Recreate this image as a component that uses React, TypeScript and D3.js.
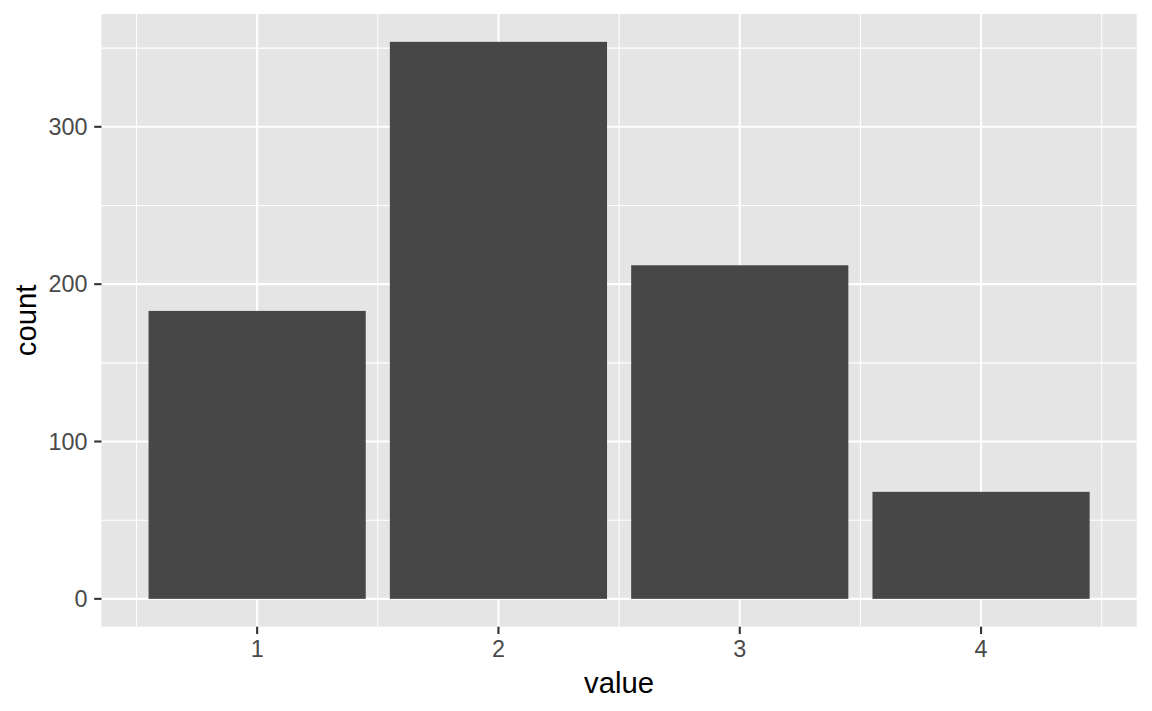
import React from 'react';
import * as d3 from 'd3';

const categories = [1, 2, 3, 4];
const counts = [183, 354, 212, 68];
const yTicks = [0, 100, 200, 300];
const yMinor = [50, 150, 250, 350];
const xMinor = [0.5, 1.5, 2.5, 3.5, 4.5];

const W = 1152;
const H = 711;
const panel = { left: 101.5, top: 14, right: 1136.7, bottom: 626.7 };

const App: React.FC = () => {
  const barWidth = 0.9;
  const xLo = d3.min(categories)! - barWidth / 2;
  const xHi = d3.max(categories)! + barWidth / 2;
  const xPad = (xHi - xLo) * 0.05;
  const x = d3.scaleLinear()
    .domain([xLo - xPad, xHi + xPad])
    .range([panel.left, panel.right]);

  const yMax = d3.max(counts)!;
  const y = d3.scaleLinear()
    .domain([-yMax * 0.05, yMax * 1.05])
    .range([panel.bottom, panel.top]);

  const font = '"Liberation Sans", Arial, sans-serif';
  const tickColor = '#4A4A4A';

  return (
    <svg width={W} height={H} style={{ display: 'block', margin: -8 }} fontFamily={font}>
      <rect x={0} y={0} width={W} height={H} fill="white" />
      <rect
        x={panel.left}
        y={panel.top}
        width={panel.right - panel.left}
        height={panel.bottom - panel.top}
        fill="#E5E5E5"
      />
      {/* minor grid */}
      {yMinor.map(v => (
        <line key={'ym' + v} x1={panel.left} x2={panel.right} y1={y(v)} y2={y(v)} stroke="white" strokeWidth={1.1} />
      ))}
      {xMinor.map(v => (
        <line key={'xm' + v} y1={panel.top} y2={panel.bottom} x1={x(v)} x2={x(v)} stroke="white" strokeWidth={1.1} />
      ))}
      {/* major grid */}
      {yTicks.map(v => (
        <line key={'y' + v} x1={panel.left} x2={panel.right} y1={y(v)} y2={y(v)} stroke="white" strokeWidth={2.1} />
      ))}
      {categories.map(v => (
        <line key={'x' + v} y1={panel.top} y2={panel.bottom} x1={x(v)} x2={x(v)} stroke="white" strokeWidth={2.1} />
      ))}
      {/* bars */}
      {categories.map((c, i) => (
        <rect
          key={'b' + c}
          x={x(c - barWidth / 2)}
          width={x(c + barWidth / 2) - x(c - barWidth / 2)}
          y={y(counts[i])}
          height={y(0) - y(counts[i])}
          fill="#474747"
        />
      ))}
      {/* y axis */}
      {yTicks.map(v => (
        <g key={'yt' + v}>
          <line x1={panel.left - 7.3} x2={panel.left} y1={y(v)} y2={y(v)} stroke="#333333" strokeWidth={2.1} />
          <text x={panel.left - 14} y={y(v)} dy="0.35em" textAnchor="end" fontSize={23.4} fill={tickColor}>
            {v}
          </text>
        </g>
      ))}
      {/* x axis */}
      {categories.map(v => (
        <g key={'xt' + v}>
          <line x1={x(v)} x2={x(v)} y1={panel.bottom} y2={panel.bottom + 7.3} stroke="#333333" strokeWidth={2.1} />
          <text x={x(v)} y={657} textAnchor="middle" fontSize={23.4} fill={tickColor}>
            {v}
          </text>
        </g>
      ))}
      <text
        x={(panel.left + panel.right) / 2}
        y={692.5}
        textAnchor="middle"
        fontSize={29.3}
        fill="black"
      >
        value
      </text>
      <text
        transform={`translate(36, ${(panel.top + panel.bottom) / 2}) rotate(-90)`}
        textAnchor="middle"
        fontSize={29.3}
        fill="black"
      >
        count
      </text>
    </svg>
  );
};

export default App;
